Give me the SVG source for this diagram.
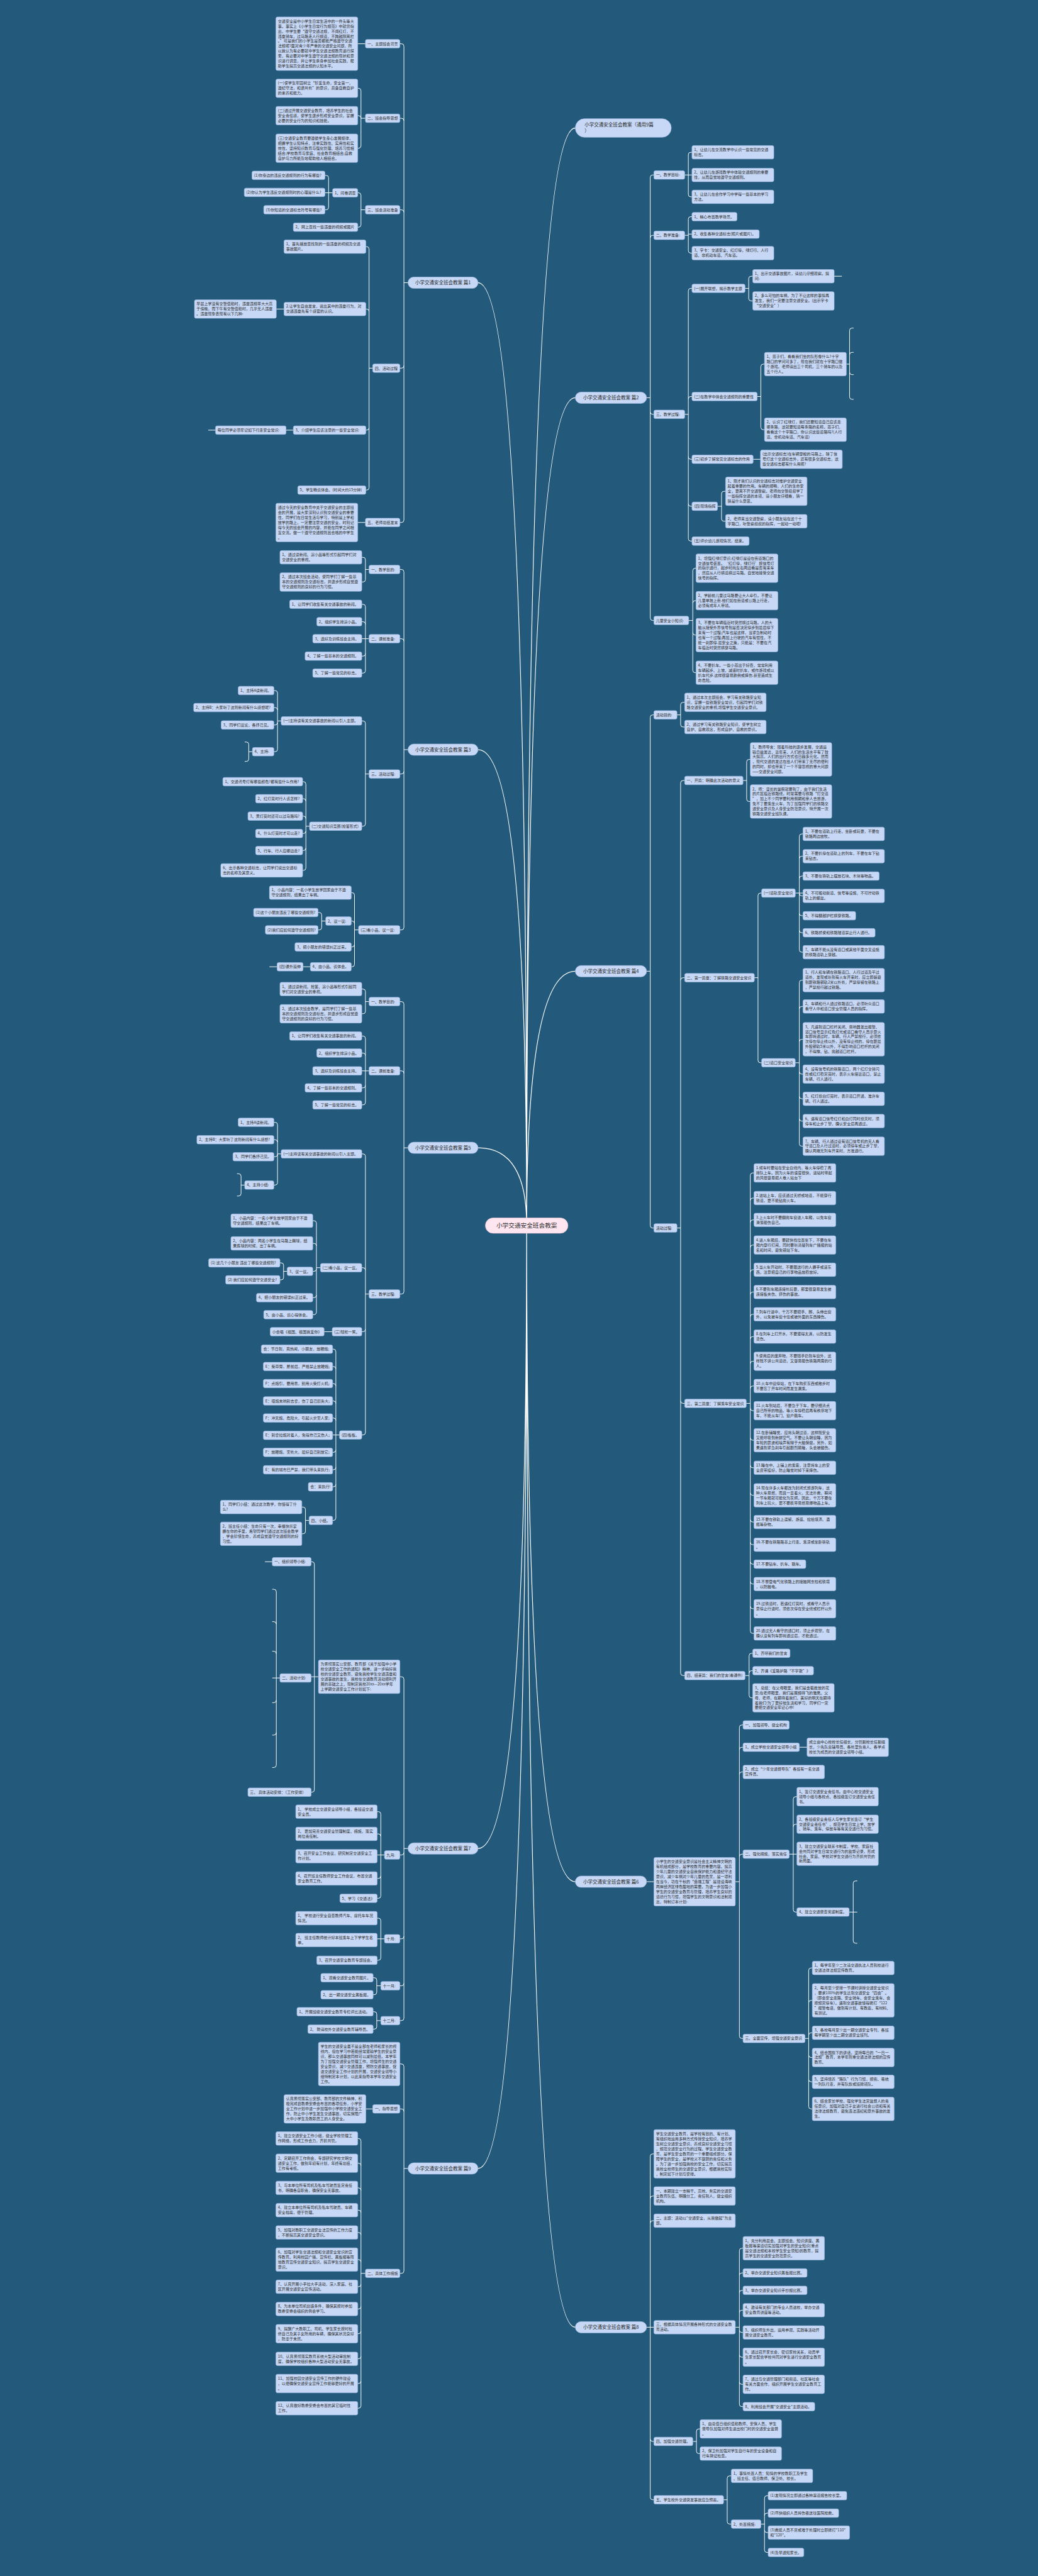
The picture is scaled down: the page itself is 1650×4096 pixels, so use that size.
<svg xmlns="http://www.w3.org/2000/svg" width="1650" height="4096" viewBox="0 0 1650 4096">
<style>
.n rect{fill:#c6d8f6;stroke:#a3bde8;stroke-width:1;rx:4px}
.n text,.m text,.c text{font-family:"Noto Sans CJK SC","Liberation Sans",sans-serif;fill:#2e2e2e}
.n text{font-size:9.4px}
.m rect{fill:#c6d8f6;stroke:#a3bde8;stroke-width:1;rx:14px}
.m text{font-size:11.7px;text-anchor:middle}
.c rect{fill:#fde6ef;stroke:#e9c4d3;stroke-width:1;rx:19px}
.c text{font-size:15px;text-anchor:middle}
#links path{fill:none;stroke:#ffffff;stroke-width:1.5}
#links path.k{stroke-width:2}
</style>
<rect width="1650" height="4096" fill="#235a7b"/>
<g transform="scale(0.644)">
<g id="links">
<path class="k" d="M1180 698Q1300 698 1300 3026M1180 1851Q1300 1851 1300 3026M1180 2834Q1300 2834 1300 3026M1180 4564Q1300 4564 1300 3026M1180 5354Q1300 5354 1300 3026M1420 316Q1300 316 1300 3026M1420 982Q1300 982 1300 3026M1420 2398Q1300 2398 1300 3026M1420 4646Q1300 4646 1300 3026M1420 5746Q1300 5746 1300 3026"/>
<path d="M1007 698H997M997 114V1284M997 114Q997 108 991 108H987M997 298Q997 292 991 292H987M997 524Q997 518 991 518H987M997 903Q997 909 991 909H987M997 1284Q997 1290 991 1290H987
M902 108H883
M902 292H891M891 224V360M891 224Q891 218 885 218H883M891 291.5Q891 285.5 885 285.5H883M891 360Q891 366 885 366H883
M902 518H891M891 482V555M891 482Q891 476 885 476H883M891 555Q891 561 885 561H883
M821 476H802M811 439V512M811 439Q811 433 805 433H802M811 512Q811 518 805 518H802
M920 909H911M911 615V1204M911 615Q911 609 905 609H903M911 769Q911 763 905 763H903M911 1056Q911 1062 905 1062H903M911 1204Q911 1210 905 1210H903
M701 763H682M724 1062H706M532 1062H514M902 1290H883"/>
<path d="M1007 1851H997M997 1412V2290M997 1412Q997 1406 991 1406H987M997 1583Q997 1577 991 1577H987M997 1905Q997 1911 991 1911H987M997 2290Q997 2296 991 2296H987
M911 1406H902M902 1382V1431M902 1382Q902 1376 896 1376H893M902 1431Q902 1437 896 1437H893
M911 1577H893M902 1498V1656M902 1498Q902 1492 896 1492H893M902 1541Q902 1535 896 1535H893M902 1614Q902 1620 896 1620H893M902 1656Q902 1662 896 1662H893
M911 1911H902M902 1786V2034M902 1786Q902 1780 896 1780H893M902 2034Q902 2040 896 2040H893
M694 1780H685M685 1711V1850M685 1711Q685 1705 679 1705H676M685 1753Q685 1747 679 1747H676M685 1784Q685 1790 679 1790H676M685 1850Q685 1856 679 1856H676
M623 1856H614M614 1838V1874M614 1838Q614 1832 608 1832H604M614 1874Q614 1880 608 1880H604
M764 2040H755M755 1936V2143M755 1936Q755 1930 749 1930H747M755 1978Q755 1972 749 1972H747M755 2021Q755 2015 749 2015H747M755 2052Q755 2058 749 2058H747M755 2094Q755 2100 749 2100H747M755 2143Q755 2149 749 2149H747
M885 2296H875M875 2210V2381M875 2210Q875 2204 869 2204H867M875 2280Q875 2274 869 2274H867M875 2332Q875 2338 869 2338H867M875 2381Q875 2387 869 2387H867
M804 2274H794M794 2259V2290M794 2259Q794 2253 788 2253H785M794 2290Q794 2296 788 2296H785
M766 2387H748M684 2387H665"/>
<path d="M1007 2834H997M997 2479V3189M997 2479Q997 2473 991 2473H987M997 2650Q997 2644 991 2644H987M997 3189Q997 3195 991 3195H987
M911 2473H902M902 2448V2497M902 2448Q902 2442 896 2442H893M902 2497Q902 2503 896 2503H893
M911 2644H893M902 2564V2722M902 2564Q902 2558 896 2558H893M902 2606Q902 2600 896 2600H893M902 2680Q902 2686 896 2686H893M902 2722Q902 2728 896 2728H893
M911 3195H902M902 2855V3537M902 2855Q902 2849 896 2849H893M902 3136Q902 3130 896 3130H893M902 3282Q902 3288 896 3288H893M902 3537Q902 3543 896 3543H893
M694 2849H685M685 2777V2920M685 2777Q685 2771 679 2771H676M685 2820Q685 2814 679 2814H676M685 2850Q685 2856 679 2856H676M685 2920Q685 2926 679 2926H676
M604 2926H595M595 2904V2947M595 2904Q595 2898 589 2898H585M595 2947Q595 2953 589 2953H585
M791 3130H781M781 3020V3240M781 3020Q781 3014 775 3014H772M781 3076Q781 3070 775 3070H772M781 3133Q781 3139 775 3139H772M781 3198Q781 3204 775 3204H772M781 3240Q781 3246 775 3246H772
M709 3139H700M700 3124V3154M700 3124Q700 3118 694 3118H691M700 3154Q700 3160 694 3160H691
M820 3288H800
M838 3543H821M829 3337V3748M829 3337Q829 3331 823 3331H821M829 3380Q829 3374 823 3374H821M829 3422Q829 3416 823 3416H821M829 3465Q829 3459 823 3459H821M829 3507Q829 3501 823 3501H821M829 3580Q829 3586 823 3586H821M829 3623Q829 3629 823 3629H821M829 3665Q829 3671 823 3671H821M829 3748Q829 3754 823 3754H821
M763 3754H754M754 3727V3781M754 3727Q754 3721 748 3721H745M754 3781Q754 3787 748 3787H745"/>
<path d="M1007 4564H997M997 4146V4983M997 4146Q997 4140 991 4140H987M997 4574Q997 4580 991 4580H987M997 4781Q997 4787 991 4787H987M997 4897Q997 4903 991 4903H987M997 4983Q997 4989 991 4989H987
M786 4140H768M776 3862V4419M776 3862Q776 3856 770 3856H768M776 4419Q776 4425 770 4425H768
M672 3856H654
M691 4143H672M682 3930V4358M682 3930Q682 3924 676 3924H672M682 4010Q682 4004 676 4004H672M682 4083Q682 4077 676 4077H672M682 4198Q682 4204 676 4204H672M682 4278Q682 4284 676 4284H672M682 4358Q682 4364 676 4364H672
M949 4580H931M940 4479V4681M940 4479Q940 4473 934 4473H931M940 4534Q940 4528 934 4528H931M940 4632Q940 4638 934 4638H931M940 4681Q940 4687 934 4687H931
M949 4787H931M940 4742V4834M940 4742Q940 4736 934 4736H931M940 4834Q940 4840 934 4840H931
M940 4903H930M930 4889V4919M930 4889Q930 4883 924 4883H921M930 4919Q930 4925 924 4925H921
M940 4989H930M930 4973V5004M930 4973Q930 4967 924 4967H921M930 5004Q930 5010 924 5010H921"/>
<path d="M1007 5354H997M997 5102V5607M997 5102Q997 5096 991 5096H987M997 5213Q997 5207 991 5207H987M997 5607Q997 5613 991 5613H987
M920 5207H903
M902 5613H891M891 5286V5940M891 5286Q891 5280 885 5280H883M891 5347Q891 5341 885 5341H883M891 5408Q891 5402 885 5402H883M891 5463Q891 5457 885 5457H883M891 5518Q891 5512 885 5512H883M891 5585Q891 5579 885 5579H883M891 5640Q891 5646 885 5646H883M891 5695Q891 5701 885 5701H883M891 5756Q891 5762 885 5762H883M891 5818Q891 5824 885 5824H883M891 5879Q891 5885 885 5885H883M891 5940Q891 5946 885 5946H883"/>
<path d="M1596 982H1605M1605 438V1526M1605 438Q1605 432 1611 432H1614M1605 587Q1605 581 1611 581H1614M1605 1017Q1605 1023 1611 1023H1614M1605 1526Q1605 1532 1611 1532H1614
M1690 432H1708M1699 382V480M1699 382Q1699 376 1705 376H1708M1699 480Q1699 486 1705 486H1708
M1690 581H1699M1699 541V619M1699 541Q1699 535 1705 535H1708M1699 578H1708M1699 619Q1699 625 1705 625H1708
M1690 1023H1699M1699 718V1330M1699 718Q1699 712 1705 712H1708M1699 985Q1699 979 1705 979H1708M1699 1128Q1699 1134 1705 1134H1708M1699 1244Q1699 1250 1705 1250H1708M1699 1330Q1699 1336 1705 1336H1708
M1839 712H1848M1848 688V737M1848 688Q1848 682 1854 682H1858M1848 737Q1848 743 1854 743H1858
M2059 682H2078
M1869 979H1878M1878 905V1055M1878 905Q1878 899 1884 899H1887M1878 1055Q1878 1061 1884 1061H1887
M2089 899H2097M2097 816V980M2097 816Q2097 810 2103 810H2107M2097 876Q2097 870 2103 870H2107M2097 919Q2097 925 2103 925H2107M2097 980Q2097 986 2103 986H2107
M1859 1134H1877
M1771 1250H1781M1781 1219V1281M1781 1219Q1781 1213 1787 1213H1791M1781 1281Q1781 1287 1787 1287H1791
M1700 1532H1710M1710 1409V1655M1710 1409Q1710 1403 1716 1403H1718M1710 1489Q1710 1483 1716 1483H1718M1710 1562Q1710 1568 1716 1568H1718M1710 1655Q1710 1661 1716 1661H1718"/>
<path d="M1596 2398H1605M1605 1771V3026M1605 1771Q1605 1765 1611 1765H1614M1605 3026Q1605 3032 1611 3032H1614
M1671 1765H1680M1680 1740V1789M1680 1740Q1680 1734 1686 1734H1690M1680 1789Q1680 1795 1686 1795H1690
M1671 3032H1680M1680 1933V4131M1680 1933Q1680 1927 1686 1927H1690M1680 2420Q1680 2414 1686 2414H1690M1680 3459Q1680 3465 1686 3465H1690M1680 4131Q1680 4137 1686 4137H1690
M1834 1927H1843M1843 1881V1973M1843 1881Q1843 1875 1849 1875H1852M1843 1973Q1843 1979 1849 1979H1852
M1862 2414H1871M1871 2211V2618M1871 2211Q1871 2205 1877 2205H1880M1871 2618Q1871 2624 1877 2624H1880
M1963 2205H1982M1973 2065V2345M1973 2065Q1973 2059 1979 2059H1982M1973 2120Q1973 2114 1979 2114H1982M1973 2169Q1973 2163 1979 2163H1982M1973 2206Q1973 2212 1979 2212H1982M1973 2255Q1973 2261 1979 2261H1982M1973 2297Q1973 2303 1979 2303H1982M1973 2345Q1973 2351 1979 2351H1982
M1963 2624H1973M1973 2426V2824M1973 2426Q1973 2420 1979 2420H1982M1973 2491Q1973 2485 1979 2485H1982M1973 2572Q1973 2566 1979 2566H1982M1973 2646Q1973 2652 1979 2652H1982M1973 2707Q1973 2713 1979 2713H1982M1973 2762Q1973 2768 1979 2768H1982M1973 2824Q1973 2830 1979 2830H1982
M1842 3465H1852M1852 2902V4027M1852 2902Q1852 2896 1858 2896H1861M1852 2964Q1852 2958 1858 2958H1861M1852 3018Q1852 3012 1858 3012H1861M1852 3080Q1852 3074 1858 3074H1861M1852 3141Q1852 3135 1858 3135H1861M1852 3196Q1852 3190 1858 3190H1861M1852 3251Q1852 3245 1858 3245H1861M1852 3306Q1852 3300 1858 3300H1861M1852 3367Q1852 3361 1858 3361H1861M1852 3428Q1852 3422 1858 3422H1861M1852 3477Q1852 3483 1858 3483H1861M1852 3550Q1852 3556 1858 3556H1861M1852 3618Q1852 3624 1858 3624H1861M1852 3686Q1852 3692 1858 3692H1861M1852 3752Q1852 3758 1858 3758H1861M1852 3808Q1852 3814 1858 3814H1861M1852 3856Q1852 3862 1858 3862H1861M1852 3905Q1852 3911 1858 3911H1861M1852 3966Q1852 3972 1858 3972H1861M1852 4027Q1852 4033 1858 4033H1861
M1839 4137H1849M1849 4088V4186M1849 4088Q1849 4082 1855 4082H1858M1849 4131Q1849 4125 1855 4125H1858M1849 4186Q1849 4192 1855 4192H1858"/>
<path d="M1596 4646H1614
M1815 4646H1825M1825 4265V5027M1825 4265Q1825 4259 1831 4259H1834M1825 4320Q1825 4314 1831 4314H1834M1825 4381Q1825 4375 1831 4375H1834M1825 4584Q1825 4578 1831 4578H1834M1825 5027Q1825 5033 1831 5033H1834
M1973 4314H1992
M1948 4578H1967M1958 4442V4715M1958 4442Q1958 4436 1964 4436H1967M1958 4510Q1958 4504 1964 4504H1967M1958 4715Q1958 4721 1964 4721H1967
M2096 4721H2116M2106 4650V4792M2106 4650Q2106 4644 2112 4644H2116M2106 4792Q2106 4798 2112 4798H2116
M1987 5033H1996M1996 4865V5201M1996 4865Q1996 4859 2002 4859H2005M1996 4945Q1996 4939 2002 4939H2005M1996 5025Q1996 5019 2002 5019H2005M1996 5074Q1996 5080 2002 5080H2005M1996 5134Q1996 5140 2002 5140H2005M1996 5201Q1996 5207 2002 5207H2005
M1596 5746H1614M1605 5324V6166M1605 5324Q1605 5318 1611 5318H1614M1605 5428Q1605 5422 1611 5422H1614M1605 5489Q1605 5483 1611 5483H1614M1605 6022Q1605 6028 1611 6028H1614M1605 6166Q1605 6172 1611 6172H1614
M1815 5746H1825M1825 5557V5936M1825 5557Q1825 5551 1831 5551H1834M1825 5618Q1825 5612 1831 5612H1834M1825 5661Q1825 5655 1831 5655H1834M1825 5710Q1825 5704 1831 5704H1834M1825 5753Q1825 5759 1831 5759H1834M1825 5814Q1825 5820 1831 5820H1834M1825 5881Q1825 5887 1831 5887H1834M1825 5936Q1825 5942 1831 5942H1834
M1710 6028H1719M1719 6003V6052M1719 6003Q1719 5997 1725 5997H1728M1719 6052Q1719 6058 1725 6058H1728
M1786 6172H1795M1795 6119V6226M1795 6119Q1795 6113 1801 6113H1805M1795 6226Q1795 6232 1801 6232H1805
M1878 6232H1887M1887 6168V6296M1887 6168Q1887 6162 1893 6162H1896M1887 6211Q1887 6205 1893 6205H1896M1887 6247Q1887 6253 1893 6253H1896M1887 6296Q1887 6302 1893 6302H1896"/>
</g>

<g id="center" class="c" transform="translate(1198,3007)"><rect width="204" height="38"/><text x="102" y="24.5">小学交通安全班会教案</text></g>
<g id="top" class="m" transform="translate(1420,293)"><rect width="237" height="46" style="rx:23px"/><text x="23" y="19" style="text-anchor:start">小学交通安全班会教案（通用9篇<tspan x="23" dy="16">）</tspan></text></g>

<!-- 篇1 -->
<g id="p1" class="m" transform="translate(1007,684)"><rect width="173" height="28"/><text x="86.5" y="18.3">小学交通安全班会教案 篇1</text></g>
<g class="n">
<g id="p1a1" transform="translate(902,97.5)"><rect width="85" height="21"/><text x="5" y="13.8">一、主题班会背景</text></g>
<g id="p1a1c" transform="translate(681,41.9)"><rect width="202" height="132.1"/><text><tspan x="5" y="13.5">交通安全是中小学生日常生活中的一件头等大</tspan><tspan x="5" dy="12.35">事。事实上《小学生日常行为规范》中就曾指</tspan><tspan x="5" dy="12.35">出，中学生要“遵守交通法规，不闯红灯，不</tspan><tspan x="5" dy="12.35">违章骑车，过马路走人行横道，不跨越隔离栏</tspan><tspan x="5" dy="12.35">。”可是我们的小学生是否都能严格遵守交通</tspan><tspan x="5" dy="12.35">法规呢?面对青少年严重的交通安全问题，所</tspan><tspan x="5" dy="12.35">以我认为有必要就中学生交通法规教育进行探</tspan><tspan x="5" dy="12.35">索，有必要对中学生遵守交通法规的现状和意</tspan><tspan x="5" dy="12.35">识进行调查，并让学生亲身参加社会实践，帮</tspan><tspan x="5" dy="12.35">助学生提高交通法规的认知水平。</tspan></text></g>
<g id="p1a2" transform="translate(902,281.5)"><rect width="85" height="21"/><text x="5" y="13.8">二、班会指导思想</text></g>
<g id="p1a2c1" transform="translate(681,195.2)"><rect width="202" height="45.65"/><text><tspan x="5" y="13.5">(一)使学生牢固树立“珍爱生命，安全第一，</tspan><tspan x="5" dy="12.35">遵纪守法，和谐共处”的意识，具备自救自护</tspan><tspan x="5" dy="12.35">的素养和能力。</tspan></text></g>
<g id="p1a2c2" transform="translate(681,262.7)"><rect width="202" height="45.65"/><text><tspan x="5" y="13.5">(二)通过开展交通安全教育，培养学生的社会</tspan><tspan x="5" dy="12.35">安全责任感，使学生逐步形成安全意识，掌握</tspan><tspan x="5" dy="12.35">必要的安全行为的知识和技能。</tspan></text></g>
<g id="p1a2c3" transform="translate(681,330.8)"><rect width="202" height="70.35"/><text><tspan x="5" y="13.5">(三)交通安全教育要遵循学生身心发展规律，</tspan><tspan x="5" dy="12.35">把握学生认知特点，注重实践性、实用性和实</tspan><tspan x="5" dy="12.35">效性。坚持知识教育与强化管理、培养习惯相</tspan><tspan x="5" dy="12.35">结合;学校教育与家庭、社会教育相结合;自救</tspan><tspan x="5" dy="12.35">自护与力所能及地帮助他人相结合。</tspan></text></g>
<g id="p1a3" transform="translate(902,507.5)"><rect width="85" height="21"/><text x="5" y="13.8">三、班会活动准备</text></g>
<g id="p1a3c1" transform="translate(821,465.5)"><rect width="62" height="21"/><text x="5" y="13.8">1、问卷调查</text></g>
<g id="p1q1" transform="translate(622,422.5)"><rect width="180" height="21"/><text x="5" y="13.8">(1)你身边的违反交通规则的行为有哪些?</text></g>
<g id="p1q2" transform="translate(603,464.5)"><rect width="199" height="21"/><text x="5" y="13.8">(2)你认为学生违反交通规则时的心理是什么?</text></g>
<g id="p1q3" transform="translate(651,507.5)"><rect width="151" height="21"/><text x="5" y="13.8">(3)你知道的交通标志符号有哪些?</text></g>
<g id="p1a3c2" transform="translate(724,550.5)"><rect width="159" height="21"/><text x="5" y="13.8">2、网上查找一些违章的视频或图片</text></g>
<g id="p1a4" transform="translate(920,898.5)"><rect width="67" height="21"/><text x="5" y="13.8">四、活动过程</text></g>
<g id="p1a4c1" transform="translate(701,592.35)"><rect width="202" height="33.3"/><text><tspan x="5" y="13.5">1、首先播放查找到的一些违章的视频及交通</tspan><tspan x="5" dy="12.35">事故图片。</tspan></text></g>
<g id="p1a4c2" transform="translate(701,746.35)"><rect width="202" height="33.3"/><text><tspan x="5" y="13.5">2.让学生自由发言，说出其中的违章行为，对</tspan><tspan x="5" dy="12.35">交通违章先有个感官的认识。</tspan></text></g>
<g id="p1a4c2a" transform="translate(480,740.2)"><rect width="202" height="45.65"/><text><tspan x="5" y="13.5">早晨上学没有交警值勤时，违章违规率大大高</tspan><tspan x="5" dy="12.35">于傍晚，而下午有交警值勤时，几乎无人违章</tspan><tspan x="5" dy="12.35">。违章现象表现有以下几种:</tspan></text></g>
<g id="p1a4c3" transform="translate(724,1051.5)"><rect width="179" height="21"/><text x="5" y="13.8">3、介绍学生应该注意的一些安全常识:</text></g>
<g id="p1a4c3a" transform="translate(532,1051.5)"><rect width="174" height="21"/><text x="5" y="13.8">每位同学必须牢记如下行走安全常识:</text></g>
<g id="p1a4c5" transform="translate(735,1199.5)"><rect width="168" height="21"/><text x="5" y="13.8">5、学生畅谈体会。(时间大约15分钟)</text></g>
<g id="p1a5" transform="translate(902,1279.5)"><rect width="85" height="21"/><text x="5" y="13.8">五、老师总结发言</text></g>
<g id="p1a5c" transform="translate(681,1242.5)"><rect width="202" height="95.05"/><text><tspan x="5" y="13.5">通过今天的安全教育中关于交通安全的主题班</tspan><tspan x="5" dy="12.35">会的开展，是大家深刻认识到交通安全的重要</tspan><tspan x="5" dy="12.35">性，同学们在日常生活与学习，特别是上学和</tspan><tspan x="5" dy="12.35">放学的路上，一定要注意交通的安全，时刻记</tspan><tspan x="5" dy="12.35">得今天的班会开展的内容，并能在同学之间相</tspan><tspan x="5" dy="12.35">互交流。做一个遵守交通规则且合格的中学生</tspan><tspan x="5" dy="12.35">。</tspan></text></g>
</g>

<!-- 篇3 -->
<g id="p3" class="m" transform="translate(1007,1837)"><rect width="173" height="28"/><text x="86.5" y="18.3">小学交通安全班会教案 篇3</text></g>
<g class="n">
<g id="p3b1" transform="translate(911,1395.5)"><rect width="76" height="21"/><text x="5" y="13.8">一、教学目的:</text></g>
<g id="p3b1a" transform="translate(691,1359.35)"><rect width="202" height="33.3"/><text><tspan x="5" y="13.5">1、通过读新闻、演小品等形式引起同学们对</tspan><tspan x="5" dy="12.35">交通安全的重视。</tspan></text></g>
<g id="p3b1b" transform="translate(691,1414.2)"><rect width="202" height="45.65"/><text><tspan x="5" y="13.5">2、通过本次班会活动，使同学们了解一些基</tspan><tspan x="5" dy="12.35">本的交通规则及交通标志，并逐步形成自觉遵</tspan><tspan x="5" dy="12.35">守交通规则的良好的行为习惯。</tspan></text></g>
<g id="p3b2" transform="translate(911,1566.5)"><rect width="76" height="21"/><text x="5" y="13.8">二、课前准备:</text></g>
<g id="p3b2a" transform="translate(715,1481.5)"><rect width="178" height="21"/><text x="5" y="13.8">1、让同学们收集有关交通事故的新闻。</text></g>
<g id="p3b2b" transform="translate(782,1524.5)"><rect width="111" height="21"/><text x="5" y="13.8">2、组织学生排演小品。</text></g>
<g id="p3b2c" transform="translate(772,1566.5)"><rect width="121" height="21"/><text x="5" y="13.8">3、选好及训练班会主持。</text></g>
<g id="p3b2d" transform="translate(753,1609.5)"><rect width="140" height="21"/><text x="5" y="13.8">4、了解一些基本的交通规则。</text></g>
<g id="p3b2e" transform="translate(772,1651.5)"><rect width="121" height="21"/><text x="5" y="13.8">5、了解一些常见的标志。</text></g>
<g id="p3b3" transform="translate(911,1900.5)"><rect width="76" height="21"/><text x="5" y="13.8">三、活动过程:</text></g>
<g id="p3b3a" transform="translate(694,1769.5)"><rect width="199" height="21"/><text x="5" y="13.8">(一)主持读有关交通事故的新闻以引入主题。</text></g>
<g id="p3b3a1" transform="translate(588,1694.5)"><rect width="88" height="21"/><text x="5" y="13.8">1、主持A读新闻。</text></g>
<g id="p3b3a2" transform="translate(478,1736.5)"><rect width="198" height="21"/><text x="5" y="13.8">2、主持B：大家听了这则新闻有什么感想呢?</text></g>
<g id="p3b3a3" transform="translate(546,1779.5)"><rect width="130" height="21"/><text x="5" y="13.8">3、同学们议论，各抒己见。</text></g>
<g id="p3b3a4" transform="translate(623,1845.5)"><rect width="53" height="21"/><text x="5" y="13.8">4、主持:</text></g>
<g id="p3b3b" transform="translate(764,2029.5)"><rect width="129" height="21"/><text x="5" y="13.8">(二)交通知识竞赛(抢答形式)</text></g>
<g id="p3b3b1" transform="translate(550,1919.5)"><rect width="197" height="21"/><text x="5" y="13.8">1、交通讯号灯有哪些颜色?都有些什么作用?</text></g>
<g id="p3b3b2" transform="translate(631,1961.5)"><rect width="116" height="21"/><text x="5" y="13.8">2、红灯亮时行人该怎样?</text></g>
<g id="p3b3b3" transform="translate(612,2004.5)"><rect width="135" height="21"/><text x="5" y="13.8">3、黄灯亮时还可以过马路吗?</text></g>
<g id="p3b3b4" transform="translate(631,2047.5)"><rect width="116" height="21"/><text x="5" y="13.8">4、什么灯亮时才可以走?</text></g>
<g id="p3b3b5" transform="translate(631,2089.5)"><rect width="116" height="21"/><text x="5" y="13.8">5、行车、行人应哪边走?</text></g>
<g id="p3b3b6" transform="translate(545,2132.35)"><rect width="202" height="33.3"/><text><tspan x="5" y="13.5">6、出示各种交通标志，让同学们说出交通标</tspan><tspan x="5" dy="12.35">志的名称及其意义。</tspan></text></g>
<g id="p3b4" transform="translate(885,2285.5)"><rect width="102" height="21"/><text x="5" y="13.8">(三)看小品，议一议:</text></g>
<g id="p3b4a" transform="translate(665,2187.35)"><rect width="202" height="33.3"/><text><tspan x="5" y="13.5">1、小品内容：一名小学生放学回家由于不遵</tspan><tspan x="5" dy="12.35">守交通规则，结果出了车祸。</tspan></text></g>
<g id="p3b4b" transform="translate(804,2263.5)"><rect width="63" height="21"/><text x="5" y="13.8">2、议一议:</text></g>
<g id="p3b4b1" transform="translate(626,2242.5)"><rect width="159" height="21"/><text x="5" y="13.8">(1)这个小朋友违反了哪些交通规则?</text></g>
<g id="p3b4b2" transform="translate(655,2285.5)"><rect width="130" height="21"/><text x="5" y="13.8">(2)我们应如何遵守交通规则?</text></g>
<g id="p3b4c" transform="translate(728,2327.5)"><rect width="139" height="21"/><text x="5" y="13.8">3、把小朋友的错误纠正过来。</text></g>
<g id="p3b4d" transform="translate(766,2376.5)"><rect width="101" height="21"/><text x="5" y="13.8">4、由小品、谈体会。</text></g>
<g id="p3b4d1" transform="translate(684,2376.5)"><rect width="64" height="21"/><text x="5" y="13.8">(四)课外延伸</text></g>
</g>

<!-- 篇5 -->
<g id="p5" class="m" transform="translate(1007,2820)"><rect width="173" height="28"/><text x="86.5" y="18.3">小学交通安全班会教案 篇5</text></g>
<g class="n">
<g id="p5c1" transform="translate(911,2462.5)"><rect width="76" height="21"/><text x="5" y="13.8">一、教学目的:</text></g>
<g id="p5c1a" transform="translate(691,2425.35)"><rect width="202" height="33.3"/><text><tspan x="5" y="13.5">1、通过读新闻、抢答、演小品等形式引起同</tspan><tspan x="5" dy="12.35">学们对交通安全的重视。</tspan></text></g>
<g id="p5c1b" transform="translate(691,2480.2)"><rect width="202" height="45.65"/><text><tspan x="5" y="13.5">2、通过本次班会教学，是同学们了解一些基</tspan><tspan x="5" dy="12.35">本的交通规则及交通标志，并逐步形成自觉遵</tspan><tspan x="5" dy="12.35">守交通规则的良好的行为习惯。</tspan></text></g>
<g id="p5c2" transform="translate(911,2633.5)"><rect width="76" height="21"/><text x="5" y="13.8">二、课前准备:</text></g>
<g id="p5c2a" transform="translate(715,2547.5)"><rect width="178" height="21"/><text x="5" y="13.8">1、让同学们收集有关交通事故的新闻。</text></g>
<g id="p5c2b" transform="translate(782,2589.5)"><rect width="111" height="21"/><text x="5" y="13.8">2、组织学生排演小品。</text></g>
<g id="p5c2c" transform="translate(772,2633.5)"><rect width="121" height="21"/><text x="5" y="13.8">3、选好及训练班会主持。</text></g>
<g id="p5c2d" transform="translate(753,2675.5)"><rect width="140" height="21"/><text x="5" y="13.8">4、了解一些基本的交通规则。</text></g>
<g id="p5c2e" transform="translate(772,2717.5)"><rect width="121" height="21"/><text x="5" y="13.8">5、了解一些常见的标志。</text></g>
<g id="p5c3" transform="translate(911,3184.5)"><rect width="76" height="21"/><text x="5" y="13.8">三、教学过程:</text></g>
<g id="p5c3a" transform="translate(694,2838.5)"><rect width="199" height="21"/><text x="5" y="13.8">(一)主持读有关交通事故的新闻以引入主题。</text></g>
<g id="p5c3a1" transform="translate(588,2760.5)"><rect width="88" height="21"/><text x="5" y="13.8">1、主持A读新闻。</text></g>
<g id="p5c3a2" transform="translate(486,2803.5)"><rect width="190" height="21"/><text x="5" y="13.8">2、主持B：大家听了这则新闻有什么感想?</text></g>
<g id="p5c3a3" transform="translate(575,2845.5)"><rect width="101" height="21"/><text x="5" y="13.8">3、同学们各抒己见。</text></g>
<g id="p5c3a4" transform="translate(604,2915.5)"><rect width="72" height="21"/><text x="5" y="13.8">4、主持小结:</text></g>
<g id="p5c3b" transform="translate(791,3119.5)"><rect width="102" height="21"/><text x="5" y="13.8">(二)看小品，议一议。</text></g>
<g id="p5c3b1" transform="translate(570,2997.35)"><rect width="202" height="33.3"/><text><tspan x="5" y="13.5">1、小品内容：一名小学生放学回家由于不遵</tspan><tspan x="5" dy="12.35">守交通规则，结果出了车祸。</tspan></text></g>
<g id="p5c3b2" transform="translate(570,3053.35)"><rect width="202" height="33.3"/><text><tspan x="5" y="13.5">2、小品内容：两名小学生在马路上踢球，结</tspan><tspan x="5" dy="12.35">果拣球的时候，出了车祸。</tspan></text></g>
<g id="p5c3b3" transform="translate(709,3128.5)"><rect width="63" height="21"/><text x="5" y="13.8">3、议一议。</text></g>
<g id="p5c3b3a" transform="translate(515,3107.5)"><rect width="176" height="21"/><text x="5" y="13.8">(1) 这几个小朋友 违反了哪些交通规则?</text></g>
<g id="p5c3b3b" transform="translate(557,3149.5)"><rect width="134" height="21"/><text x="5" y="13.8">(2) 我们应如何遵守交通安全?</text></g>
<g id="p5c3b4" transform="translate(633,3193.5)"><rect width="139" height="21"/><text x="5" y="13.8">4、把小朋友的错误纠正过来。</text></g>
<g id="p5c3b5" transform="translate(651,3235.5)"><rect width="121" height="21"/><text x="5" y="13.8">5、由小品、谈心得体会。</text></g>
<g id="p5c3c" transform="translate(820,3277.5)"><rect width="73" height="21"/><text x="5" y="13.8">(三)轻松一笑。</text></g>
<g id="p5c3c1" transform="translate(667,3277.5)"><rect width="133" height="21"/><text x="5" y="13.8">小合唱《祖国、祖国我爱你》</text></g>
<g id="p5c3d" transform="translate(838,3532.5)"><rect width="55" height="21"/><text x="5" y="13.8">(四)板板。</text></g>
<g id="p5d1" transform="translate(645,3320.5)"><rect width="176" height="21"/><text x="5" y="13.8">合：节日到，真热闹，小朋友，放鞭炮;</text></g>
<g id="p5d2" transform="translate(650,3363.5)"><rect width="171" height="21"/><text x="5" y="13.8">E：柴草旁，屋前后，严格禁止放鞭炮;</text></g>
<g id="p5d3" transform="translate(650,3405.5)"><rect width="171" height="21"/><text x="5" y="13.8">F：点炮引，要用香，别用火柴打火机;</text></g>
<g id="p5d4" transform="translate(650,3448.5)"><rect width="171" height="21"/><text x="5" y="13.8">E：哑炮未响别去拿，伤了自己损失大;</text></g>
<g id="p5d5" transform="translate(650,3490.5)"><rect width="171" height="21"/><text x="5" y="13.8">F：冲天炮，危险大，引起火灾害人家;</text></g>
<g id="p5d6" transform="translate(650,3533.5)"><rect width="171" height="21"/><text x="5" y="13.8">E：别拿拉炮对着人，免得炸己又伤人;</text></g>
<g id="p5d7" transform="translate(650,3575.5)"><rect width="171" height="21"/><text x="5" y="13.8">F：放鞭炮，害处大，最好自己别放它;</text></g>
<g id="p5d8" transform="translate(650,3618.5)"><rect width="171" height="21"/><text x="5" y="13.8">E：有的城市已严禁，我们带头来执行;</text></g>
<g id="p5d9" transform="translate(761,3660.5)"><rect width="60" height="21"/><text x="5" y="13.8">合：来执行!</text></g>
<g id="p5d10" transform="translate(763,3743.5)"><rect width="58" height="21"/><text x="5" y="13.8">四、小结。</text></g>
<g id="p5d10a" transform="translate(544,3704.35)"><rect width="201" height="33.3"/><text><tspan x="5" y="13.5">1、同学们小结：通过这次教学，你懂得了什</tspan><tspan x="5" dy="12.35">么?</tspan></text></g>
<g id="p5d10b" transform="translate(544,3758)"><rect width="201" height="58"/><text><tspan x="5" y="13.5">2、班主任小结：生命只有一次，幸福快乐掌</tspan><tspan x="5" dy="12.35">握在你的手里，希望同学们通过这次班会教学</tspan><tspan x="5" dy="12.35">，学会珍惜生命，养成自觉遵守交通规则的好</tspan><tspan x="5" dy="12.35">习惯。</tspan></text></g>
</g>

<!-- 篇7 -->
<g id="p7" class="m" transform="translate(1007,4550)"><rect width="173" height="28"/><text x="86.5" y="18.3">小学交通安全班会教案 篇7</text></g>
<g class="n">
<g id="p7e0" transform="translate(786,4098.65)"><rect width="201" height="82.7"/><text><tspan x="5" y="13.5">为贯彻落实公安部、教育部《关于加强中小学</tspan><tspan x="5" dy="12.35">校交通安全工作的通知》精神，进一步搞好我</tspan><tspan x="5" dy="12.35">校的交通安全教育，避免我校学生交通违章和</tspan><tspan x="5" dy="12.35">交通事故的发生，我校在交通教育活动顺利开</tspan><tspan x="5" dy="12.35">展的基础之上，现制定我校20xx—20xx学年</tspan><tspan x="5" dy="12.35">上学期交通安全工作计划如下:</tspan></text></g>
<g id="p7e1" transform="translate(672,3845.5)"><rect width="96" height="21"/><text x="5" y="13.8">一、组织领导小组:</text></g>
<g id="p7e2" transform="translate(691,4132.5)"><rect width="77" height="21"/><text x="5" y="13.8">二、活动计划:</text></g>
<g id="p7e3" transform="translate(612,4414.5)"><rect width="156" height="21"/><text x="5" y="13.8">三、 具体活动安排：（工作安排）</text></g>
<g id="p7f1" transform="translate(949,4569.5)"><rect width="38" height="21"/><text x="5" y="13.8">九月:</text></g>
<g id="p7f1a" transform="translate(730,4456.35)"><rect width="201" height="33.3"/><text><tspan x="5" y="13.5">1、 学校成立交通安全领导小组，各班设交通</tspan><tspan x="5" dy="12.35">安全员。</tspan></text></g>
<g id="p7f1b" transform="translate(730,4511.35)"><rect width="201" height="33.3"/><text><tspan x="5" y="13.5">2、 更加完善交通安全管理制度、措施，落实</tspan><tspan x="5" dy="12.35">岗位责任制。</tspan></text></g>
<g id="p7f1c" transform="translate(730,4566.35)"><rect width="201" height="33.3"/><text><tspan x="5" y="13.5">3、召开安全工作会议，研究制定交通安全工</tspan><tspan x="5" dy="12.35">作计划。</tspan></text></g>
<g id="p7f1d" transform="translate(730,4621.35)"><rect width="201" height="33.3"/><text><tspan x="5" y="13.5">4、召开班主任教师安全工作会议，布置交通</tspan><tspan x="5" dy="12.35">安全教育工作。</tspan></text></g>
<g id="p7f1e" transform="translate(839,4676.5)"><rect width="92" height="21"/><text x="5" y="13.8">5、学习《交通法》</text></g>
<g id="p7f2" transform="translate(949,4776.5)"><rect width="38" height="21"/><text x="5" y="13.8">十月:</text></g>
<g id="p7f2a" transform="translate(730,4719.35)"><rect width="201" height="33.3"/><text><tspan x="5" y="13.5">1、 学校进行安全自查教师汽车、摩托车车况</tspan><tspan x="5" dy="12.35">情况。</tspan></text></g>
<g id="p7f2b" transform="translate(730,4773.35)"><rect width="201" height="33.3"/><text><tspan x="5" y="13.5">2、 班主任教师统计好本班乘车上下学学生名</tspan><tspan x="5" dy="12.35">单。</tspan></text></g>
<g id="p7f2c" transform="translate(782,4829.5)"><rect width="149" height="21"/><text x="5" y="13.8">3、召开交通安全教育专题班会。</text></g>
<g id="p7f3" transform="translate(940,4892.5)"><rect width="47" height="21"/><text x="5" y="13.8">十一月:</text></g>
<g id="p7f3a" transform="translate(792,4872.5)"><rect width="129" height="21"/><text x="5" y="13.8">1、观看交通安全教育图片。</text></g>
<g id="p7f3b" transform="translate(792,4914.5)"><rect width="129" height="21"/><text x="5" y="13.8">2、出一期交通安全黑板报。</text></g>
<g id="p7f4" transform="translate(940,4978.5)"><rect width="47" height="21"/><text x="5" y="13.8">十二月:</text></g>
<g id="p7f4a" transform="translate(733,4956.5)"><rect width="188" height="21"/><text x="5" y="13.8">1、开展班级交通安全教育专栏评比活动。</text></g>
<g id="p7f4b" transform="translate(760,4999.5)"><rect width="161" height="21"/><text x="5" y="13.8">2、 聘请校外交通安全教育辅导员。</text></g>
</g>

<!-- 篇9 -->
<g id="p9" class="m" transform="translate(1007,5340)"><rect width="173" height="28"/><text x="86.5" y="18.3">小学交通安全班会教案 篇9</text></g>
<g class="n">
<g id="p9g0" transform="translate(786,5042.3)"><rect width="201" height="107.4"/><text><tspan x="5" y="13.5">学生的交通安全虽不是全部在老师和家长的视</tspan><tspan x="5" dy="12.35">线内，但在学习中若能经常灌输学生的安全意</tspan><tspan x="5" dy="12.35">识，那么交通事故同样可以减到最低。本学年</tspan><tspan x="5" dy="12.35">为了加强交通安全管理工作，增强师生的交通</tspan><tspan x="5" dy="12.35">安全意识，减少交通违章，预防交通事故，促</tspan><tspan x="5" dy="12.35">进交通安全工作计划的开展，交通安全领导小</tspan><tspan x="5" dy="12.35">组特制定本计划，以此来指导本学年交通安全</tspan><tspan x="5" dy="12.35">工作。</tspan></text></g>
<g id="p9g1" transform="translate(920,5196.5)"><rect width="67" height="21"/><text x="5" y="13.8">一、指导思想</text></g>
<g id="p9g1a" transform="translate(701,5171.8)"><rect width="202" height="70.35"/><text><tspan x="5" y="13.5">认真贯彻落实公安部、教育部的文件精神，积</tspan><tspan x="5" dy="12.35">极完成县教委安委会布置的各项任务，小学安</tspan><tspan x="5" dy="12.35">全工作计划中进一步加强中小学校交通安全工</tspan><tspan x="5" dy="12.35">作，防止中小学生发生交通事故，切实保障广</tspan><tspan x="5" dy="12.35">大中小学生及教职员工的人身安全。</tspan></text></g>
<g id="p9g2" transform="translate(902,5602.5)"><rect width="85" height="21"/><text x="5" y="13.8">二、具体工作措施</text></g>
<g id="p9g2a" transform="translate(681,5263.35)"><rect width="202" height="33.3"/><text><tspan x="5" y="13.5">1、建立交通安全工作小组，健全学校管理工</tspan><tspan x="5" dy="12.35">作网络，形成工作合力，齐抓共管。</tspan></text></g>
<g id="p9g2b" transform="translate(681,5318.2)"><rect width="202" height="45.65"/><text><tspan x="5" y="13.5">2、定期召开工作例会，专题研究学校文明交</tspan><tspan x="5" dy="12.35">通安全工作，做到年初有计划，年终有总结，</tspan><tspan x="5" dy="12.35">工作有考核。</tspan></text></g>
<g id="p9g2c" transform="translate(681,5385.35)"><rect width="202" height="33.3"/><text><tspan x="5" y="13.5">3、与本单位所有司机及私车驾驶员签定责任</tspan><tspan x="5" dy="12.35">书，明确各自职责，确保安全无事故。</tspan></text></g>
<g id="p9g2d" transform="translate(681,5440.35)"><rect width="202" height="33.3"/><text><tspan x="5" y="13.5">4、建立本单位所有司机及私车驾驶员、车辆</tspan><tspan x="5" dy="12.35">安全档案，便于管理。</tspan></text></g>
<g id="p9g2e" transform="translate(681,5495.35)"><rect width="202" height="33.3"/><text><tspan x="5" y="13.5">5、加强对教职工交通安全法宣传的工作力度</tspan><tspan x="5" dy="12.35">，不断提高其交通安全意识。</tspan></text></g>
<g id="p9g2f" transform="translate(681,5550)"><rect width="202" height="58"/><text><tspan x="5" y="13.5">6、加强对学生交通法规和交通安全常识的宣</tspan><tspan x="5" dy="12.35">传教育。利用校园广播、宣传栏、黑板报等阵</tspan><tspan x="5" dy="12.35">地教育宣传交通安全知识，提高学生交通安全</tspan><tspan x="5" dy="12.35">意识。</tspan></text></g>
<g id="p9g2g" transform="translate(681,5629.35)"><rect width="202" height="33.3"/><text><tspan x="5" y="13.5">7、认真开展小手拉大手活动，深入家庭、社</tspan><tspan x="5" dy="12.35">区开展交通安全宣传活动。</tspan></text></g>
<g id="p9g2h" transform="translate(681,5684.35)"><rect width="202" height="33.3"/><text><tspan x="5" y="13.5">8、为本单位司机创造条件，确保其按时参加</tspan><tspan x="5" dy="12.35">教委安委会组织的例会学习。</tspan></text></g>
<g id="p9g2i" transform="translate(681,5739.2)"><rect width="202" height="45.65"/><text><tspan x="5" y="13.5">9、提醒广大教职工、司机、学生家长按时检</tspan><tspan x="5" dy="12.35">修自己及其子女所用的车辆，确保其状况良好</tspan><tspan x="5" dy="12.35">，防患于未然。</tspan></text></g>
<g id="p9g2j" transform="translate(681,5807.35)"><rect width="202" height="33.3"/><text><tspan x="5" y="13.5">10、认真贯彻落实教育系统大型活动审批制</tspan><tspan x="5" dy="12.35">度，确保学校组织各种大型活动安全无事故。</tspan></text></g>
<g id="p9g2k" transform="translate(681,5862.2)"><rect width="202" height="45.65"/><text><tspan x="5" y="13.5">11、加强校园交通安全宣传工作的硬件建设</tspan><tspan x="5" dy="12.35">，以便确保交通安全宣传工作能够更好的开展</tspan><tspan x="5" dy="12.35">。</tspan></text></g>
<g id="p9g2l" transform="translate(681,5929.35)"><rect width="202" height="33.3"/><text><tspan x="5" y="13.5">12、认真做好教委安委会布置的其它临时性</tspan><tspan x="5" dy="12.35">工作。</tspan></text></g>
</g>

<!-- 篇2 -->
<g id="p2" class="m" transform="translate(1420,968)"><rect width="176" height="28"/><text x="88" y="18.3">小学交通安全班会教案 篇2</text></g>
<g class="n">
<g id="p2h1" transform="translate(1614,421.5)"><rect width="76" height="21"/><text x="5" y="13.8">一、教学目标:</text></g>
<g id="p2h1a" transform="translate(1708,359.35)"><rect width="202" height="33.3"/><text><tspan x="5" y="13.5">1、让幼儿在交流教学中认识一些常见的交通</tspan><tspan x="5" dy="12.35">标志。</tspan></text></g>
<g id="p2h1b" transform="translate(1708,415.35)"><rect width="202" height="33.3"/><text><tspan x="5" y="13.5">2、让幼儿在游戏教学中体验交通规则的重要</tspan><tspan x="5" dy="12.35">性，从而自觉地遵守交通规则。</tspan></text></g>
<g id="p2h1c" transform="translate(1708,469.35)"><rect width="202" height="33.3"/><text><tspan x="5" y="13.5">3、让幼儿在合作学习中学得一些基本的学习</tspan><tspan x="5" dy="12.35">方法。</tspan></text></g>
<g id="p2h2" transform="translate(1614,570.5)"><rect width="76" height="21"/><text x="5" y="13.8">二、教学准备:</text></g>
<g id="p2h2a" transform="translate(1708,524.5)"><rect width="111" height="21"/><text x="5" y="13.8">1、精心布置教学场景。</text></g>
<g id="p2h2b" transform="translate(1708,567.5)"><rect width="166" height="21"/><text x="5" y="13.8">2、收集各种交通标志(照片或图片)。</text></g>
<g id="p2h2c" transform="translate(1708,608.35)"><rect width="202" height="33.3"/><text><tspan x="5" y="13.5">3、字卡：交通安全、红灯停，绿灯行、人行</tspan><tspan x="5" dy="12.35">道、非机动车道、汽车道。</tspan></text></g>
<g id="p2h3" transform="translate(1614,1012.5)"><rect width="76" height="21"/><text x="5" y="13.8">三、教学过程:</text></g>
<g id="p2h3a" transform="translate(1708,701.5)"><rect width="131" height="21"/><text x="5" y="13.8">(一)展开联想，揭示教学主题</text></g>
<g id="p2h3a1" transform="translate(1858,665.35)"><rect width="201" height="33.3"/><text><tspan x="5" y="13.5">1、出示交通事故图片，请幼儿仔细观察。提</tspan><tspan x="5" dy="12.35">问:</tspan></text></g>
<g id="p2h3a2" transform="translate(1858,720.2)"><rect width="201" height="45.65"/><text><tspan x="5" y="13.5">2、多么可怕的车祸，为了不让这样的事情再</tspan><tspan x="5" dy="12.35">发生，我们一定要注意交通安全。(出示字卡</tspan><tspan x="5" dy="12.35">“交通安全”）</tspan></text></g>
<g id="p2h3b" transform="translate(1708,968.5)"><rect width="161" height="21"/><text x="5" y="13.8">(二)在教学中体会交通规则的重要性</text></g>
<g id="p2h3b1" transform="translate(1887,870)"><rect width="202" height="58"/><text><tspan x="5" y="13.5">1、孩子们，看看我们坐的队形像什么?十字</tspan><tspan x="5" dy="12.35">路口的学问可多了，现在我们就在十字路口做</tspan><tspan x="5" dy="12.35">个游戏。老师请出三个司机，三个骑车的以及</tspan><tspan x="5" dy="12.35">五个行人。</tspan></text></g>
<g id="p2h3b2" transform="translate(1887,1032)"><rect width="202" height="58"/><text><tspan x="5" y="13.5">2、认识了红绿灯，我们还要知道自己应该走</tspan><tspan x="5" dy="12.35">哪条路，这就要知道每条路的名称。孩子们，</tspan><tspan x="5" dy="12.35">看看这个十字路口，你认识这些道路吗?(人行</tspan><tspan x="5" dy="12.35">道、非机动车道、汽车道)</tspan></text></g>
<g id="p2h3c" transform="translate(1708,1123.5)"><rect width="151" height="21"/><text x="5" y="13.8">(三)初步了解常见交通标志的作用</text></g>
<g id="p2h3c1" transform="translate(1877,1111.2)"><rect width="202" height="45.65"/><text><tspan x="5" y="13.5">(出示交通标志)在车辆穿梭的马路上，除了信</tspan><tspan x="5" dy="12.35">号灯这个交通标志外，还有很多交通标志，这</tspan><tspan x="5" dy="12.35">些交通标志都有什么用呢?</tspan></text></g>
<g id="p2h3d" transform="translate(1708,1239.5)"><rect width="63" height="21"/><text x="5" y="13.8">(四)现场指挥</text></g>
<g id="p2h3d1" transform="translate(1791,1177.8)"><rect width="201" height="70.35"/><text><tspan x="5" y="13.5">1、刚才我们认识的交通标志对维护交通安全</tspan><tspan x="5" dy="12.35">起着重要的作用。车辆的顺畅，人们的生命安</tspan><tspan x="5" dy="12.35">全，更离不开交通警察。老师向交警叔叔学了</tspan><tspan x="5" dy="12.35">一些指挥交通的本领，请小朋友仔细看，猜一</tspan><tspan x="5" dy="12.35">猜是什么意思。</tspan></text></g>
<g id="p2h3d2" transform="translate(1791,1270.35)"><rect width="201" height="33.3"/><text><tspan x="5" y="13.5">2、老师来当交通警察，请小朋友站在这个十</tspan><tspan x="5" dy="12.35">字路口，听警察叔叔的指挥，一起动一动吧!</tspan></text></g>
<g id="p2h3e" transform="translate(1708,1325.5)"><rect width="141" height="21"/><text x="5" y="13.8">(五)评价幼儿游戏情况，结束。</text></g>
<g id="p2h4" transform="translate(1614,1521.5)"><rect width="86" height="21"/><text x="5" y="13.8">儿童安全小知识:</text></g>
<g id="p2h4a" transform="translate(1718,1367.8)"><rect width="202" height="70.35"/><text><tspan x="5" y="13.5">1、增强红绿灯意识.红绿灯是设在街道路口的</tspan><tspan x="5" dy="12.35">交通信号装置。‘红灯停，绿灯行’按信号灯</tspan><tspan x="5" dy="12.35">的指示通行，起步时向左右两边看是否有来车</tspan><tspan x="5" dy="12.35">，然后从人行横道横过马路。自觉地接受交通</tspan><tspan x="5" dy="12.35">信号的指挥。</tspan></text></g>
<g id="p2h4b" transform="translate(1718,1460.2)"><rect width="202" height="45.65"/><text><tspan x="5" y="13.5">2、学龄前儿童过马路要让大人牵引。不要让</tspan><tspan x="5" dy="12.35">儿童单独上街.他们如在街道或公路上行走，</tspan><tspan x="5" dy="12.35">必须有成年人带领。</tspan></text></g>
<g id="p2h4c" transform="translate(1718,1526.65)"><rect width="202" height="82.7"/><text><tspan x="5" y="13.5">3、不要在车辆临近时突然横过马路。人的大</tspan><tspan x="5" dy="12.35">脑从接受外界信号到是否决定停步到最后停下</tspan><tspan x="5" dy="12.35">来有一个过程;汽车也是这样，当紧急制动时</tspan><tspan x="5" dy="12.35">也有一个过程;再加上行驶的汽车有惯性，不</tspan><tspan x="5" dy="12.35">能一刹即停.最安全之策，只能是：不要在汽</tspan><tspan x="5" dy="12.35">车临近时突然横穿马路。</tspan></text></g>
<g id="p2h4d" transform="translate(1718,1632)"><rect width="202" height="58"/><text><tspan x="5" y="13.5">4、不要扒车。一些小孩出于好奇，常常利用</tspan><tspan x="5" dy="12.35">车辆起步、上坡、减速时扒车，或作游戏或以</tspan><tspan x="5" dy="12.35">扒车代步.这样很容易跌倒或摔伤.甚至造成生</tspan><tspan x="5" dy="12.35">命危险。</tspan></text></g>
</g>

<!-- 篇4 -->
<g id="p4" class="m" transform="translate(1420,2384)"><rect width="176" height="28"/><text x="88" y="18.3">小学交通安全班会教案 篇4</text></g>
<g class="n">
<g id="p4i1" transform="translate(1614,1754.5)"><rect width="57" height="21"/><text x="5" y="13.8">活动目的:</text></g>
<g id="p4i1a" transform="translate(1690,1711.2)"><rect width="201" height="45.65"/><text><tspan x="5" y="13.5">1、通过本次主题班会，学习有关铁路安全知</tspan><tspan x="5" dy="12.35">识，掌握一些铁路安全常识，引起同学们对铁</tspan><tspan x="5" dy="12.35">路交通安全的重视,增强学生交通安全意识。</tspan></text></g>
<g id="p4i1b" transform="translate(1690,1778.35)"><rect width="201" height="33.3"/><text><tspan x="5" y="13.5">2、通过学习有关铁路安全知识，使学生树立</tspan><tspan x="5" dy="12.35">自护、自救观念，形成自护、自救的意识。</tspan></text></g>
<g id="p4i2" transform="translate(1614,3021.5)"><rect width="57" height="21"/><text x="5" y="13.8">活动过程:</text></g>
<g id="p4j1" transform="translate(1690,1916.5)"><rect width="144" height="21"/><text x="5" y="13.8">一、开篇：明确此次活动的意义</text></g>
<g id="p4j1a" transform="translate(1852,1833.65)"><rect width="201" height="82.7"/><text><tspan x="5" y="13.5">1、教师导言：随着科技的逐步发展，交通运</tspan><tspan x="5" dy="12.35">输日益发达，近年来，人们的生活水平有了较</tspan><tspan x="5" dy="12.35">大提高，人们的出行方式也日趋多元化。然而</tspan><tspan x="5" dy="12.35">，现代交通的发达在给人们带来了无尽的便利</tspan><tspan x="5" dy="12.35">的同时，却也带来了一个不容忽视的重大问题</tspan><tspan x="5" dy="12.35">——交通安全问题。</tspan></text></g>
<g id="p4j1b" transform="translate(1852,1937.65)"><rect width="201" height="82.7"/><text><tspan x="5" y="13.5">2、师：漫长的暑假就要到了，由于我们生活</tspan><tspan x="5" dy="12.35">的片区临近铁路线，时常需要与铁路“打交道</tspan><tspan x="5" dy="12.35">”，加上不少同学要利用假期和亲人去旅游，</tspan><tspan x="5" dy="12.35">免不了要乘坐火车，为了加强同学们的铁路交</tspan><tspan x="5" dy="12.35">通安全意识及人身安全防范意识，特开展一次</tspan><tspan x="5" dy="12.35">铁路交通安全班队课。</tspan></text></g>
<g id="p4j2" transform="translate(1690,2403.5)"><rect width="172" height="21"/><text x="5" y="13.8">二、第一篇章：了解铁路交通安全常识</text></g>
<g id="p4k1" transform="translate(1880,2194.5)"><rect width="83" height="21"/><text x="5" y="13.8">(一)道轨安全常识</text></g>
<g id="p4k1a" transform="translate(1982,2042.35)"><rect width="201" height="33.3"/><text><tspan x="5" y="13.5">1、不要在道轨上行走、坐卧或玩耍，不要在</tspan><tspan x="5" dy="12.35">铁路两边放牧。</tspan></text></g>
<g id="p4k1b" transform="translate(1982,2097.35)"><rect width="201" height="33.3"/><text><tspan x="5" y="13.5">2、不要扒停在道轨上的列车，不要在车下钻</tspan><tspan x="5" dy="12.35">来钻去。</tspan></text></g>
<g id="p4k1c" transform="translate(1982,2152.5)"><rect width="188" height="21"/><text x="5" y="13.8">3、不要在铁轨上摆放石块、木块等物品。</text></g>
<g id="p4k1d" transform="translate(1982,2195.35)"><rect width="201" height="33.3"/><text><tspan x="5" y="13.5">4、不可搬动扳道、信号等设施，不可拧动铁</tspan><tspan x="5" dy="12.35">轨上的螺丝。</tspan></text></g>
<g id="p4k1e" transform="translate(1982,2250.5)"><rect width="130" height="21"/><text x="5" y="13.8">5、不得翻越护栏横穿铁路。</text></g>
<g id="p4k1f" transform="translate(1982,2292.5)"><rect width="178" height="21"/><text x="5" y="13.8">6、铁路桥梁和铁路隧道禁止行人通行。</text></g>
<g id="p4k1g" transform="translate(1982,2334.35)"><rect width="201" height="33.3"/><text><tspan x="5" y="13.5">7、车辆不能从没有道口或其他平面交叉设施</tspan><tspan x="5" dy="12.35">的铁路道轨上穿越。</tspan></text></g>
<g id="p4k2" transform="translate(1880,2613.5)"><rect width="83" height="21"/><text x="5" y="13.8">(二)道口安全常识</text></g>
<g id="p4k2a" transform="translate(1982,2391)"><rect width="201" height="58"/><text><tspan x="5" y="13.5">1、行人和车辆在铁路道口、人行过道及平过</tspan><tspan x="5" dy="12.35">道处，发现或听到有火车开来时，应立即躲避</tspan><tspan x="5" dy="12.35">到距铁路钢轨2米以外处，严禁停留在铁路上</tspan><tspan x="5" dy="12.35">，严禁抢行越过铁路。</tspan></text></g>
<g id="p4k2b" transform="translate(1982,2468.35)"><rect width="201" height="33.3"/><text><tspan x="5" y="13.5">2、车辆和行人通过铁路道口，必须听众道口</tspan><tspan x="5" dy="12.35">看守人中和道口安全管理人员的指挥。</tspan></text></g>
<g id="p4k2c" transform="translate(1982,2524.65)"><rect width="201" height="82.7"/><text><tspan x="5" y="13.5">3、凡遇到道口栏杆关闭、音响器发出报警、</tspan><tspan x="5" dy="12.35">道口信号显示红色灯光或道口看守人员示意火</tspan><tspan x="5" dy="12.35">车即将通过时，车辆、行人严禁抢行，必须依</tspan><tspan x="5" dy="12.35">次停在停止线以外，没有停止线的，停在距最</tspan><tspan x="5" dy="12.35">外股钢轨5米以外，不得影响道口栏杆的关闭</tspan><tspan x="5" dy="12.35">，不得撞、钻、爬越道口栏杆。</tspan></text></g>
<g id="p4k2d" transform="translate(1982,2629.2)"><rect width="201" height="45.65"/><text><tspan x="5" y="13.5">4、设有信号机的铁路道口，两个红灯交替闪</tspan><tspan x="5" dy="12.35">烁或红灯稳定亮时，表示火车接近道口，禁止</tspan><tspan x="5" dy="12.35">车辆、行人通行。</tspan></text></g>
<g id="p4k2e" transform="translate(1982,2696.35)"><rect width="201" height="33.3"/><text><tspan x="5" y="13.5">5、红灯熄白灯亮时，表示道口开通，准许车</tspan><tspan x="5" dy="12.35">辆、行人通过。</tspan></text></g>
<g id="p4k2f" transform="translate(1982,2751.35)"><rect width="201" height="33.3"/><text><tspan x="5" y="13.5">6、遇有道口信号红灯和白灯同时熄灭时，须</tspan><tspan x="5" dy="12.35">停车和止步了望，确认安全后再通过。</tspan></text></g>
<g id="p4k2g" transform="translate(1982,2807.2)"><rect width="201" height="45.65"/><text><tspan x="5" y="13.5">7、车辆、行人通过设有道口信号机的无人看</tspan><tspan x="5" dy="12.35">守道口及人行过道时，必须停车或止步了望，</tspan><tspan x="5" dy="12.35">确认两端无列车开来时，方准通行。</tspan></text></g>
<g id="p4j3" transform="translate(1690,3454.5)"><rect width="152" height="21"/><text x="5" y="13.8">三、第二篇章：了解乘车安全常识</text></g>
<g id="p4l1" transform="translate(1861,2873.2)"><rect width="202" height="45.65"/><text><tspan x="5" y="13.5">1.候车时要站在安全白线内，等火车停稳了再</tspan><tspan x="5" dy="12.35">排队上车。因为火车的速度很快，进站时带起</tspan><tspan x="5" dy="12.35">的风很容易把人卷入站台下</tspan></text></g>
<g id="p4l2" transform="translate(1861,2941.35)"><rect width="202" height="33.3"/><text><tspan x="5" y="13.5">2.进站上车，应该通过天桥或地道，不能穿行</tspan><tspan x="5" dy="12.35">铁道，更不能钻爬火车。</tspan></text></g>
<g id="p4l3" transform="translate(1861,2995.35)"><rect width="202" height="33.3"/><text><tspan x="5" y="13.5">3.上火车时不要翻爬车窗进入车厢，以免车窗</tspan><tspan x="5" dy="12.35">滑落砸伤自己。</tspan></text></g>
<g id="p4l4" transform="translate(1861,3051.2)"><rect width="202" height="45.65"/><text><tspan x="5" y="13.5">4.进入车厢后，要赶快找位置坐下，不要在车</tspan><tspan x="5" dy="12.35">厢内穿行打闹，同时要听清楚列车广播报的站</tspan><tspan x="5" dy="12.35">名和时间，避免错站下车。</tspan></text></g>
<g id="p4l5" transform="translate(1861,3118.35)"><rect width="202" height="33.3"/><text><tspan x="5" y="13.5">5.当火车开动时，不要跟送行的人握手或递东</tspan><tspan x="5" dy="12.35">西，注意把自己的行李物品放稳放好。</tspan></text></g>
<g id="p4l6" transform="translate(1861,3173.35)"><rect width="202" height="33.3"/><text><tspan x="5" y="13.5">6.不要到车厢连接处玩耍，那里很容易发生被</tspan><tspan x="5" dy="12.35">连接板夹伤、挤伤的事故。</tspan></text></g>
<g id="p4l7" transform="translate(1861,3228.35)"><rect width="202" height="33.3"/><text><tspan x="5" y="13.5">7.列车行进中，千万不要把手、脚、头伸出窗</tspan><tspan x="5" dy="12.35">外，以免被车窗卡住或被外面的东西撞伤。</tspan></text></g>
<g id="p4l8" transform="translate(1861,3283.35)"><rect width="202" height="33.3"/><text><tspan x="5" y="13.5">8.在列车上打开水，不要灌得太满，以防发生</tspan><tspan x="5" dy="12.35">烫伤。</tspan></text></g>
<g id="p4l9" transform="translate(1861,3338.2)"><rect width="202" height="45.65"/><text><tspan x="5" y="13.5">9.使用后的废弃物，不要随手扔到车窗外，这</tspan><tspan x="5" dy="12.35">样既不讲公共道德，又容易砸伤铁路两旁的行</tspan><tspan x="5" dy="12.35">人。</tspan></text></g>
<g id="p4l10" transform="translate(1861,3405.35)"><rect width="202" height="33.3"/><text><tspan x="5" y="13.5">10.火车中途停站，在下车购买东西或散步时</tspan><tspan x="5" dy="12.35">不要忘了开车时间而发生漏乘。</tspan></text></g>
<g id="p4l11" transform="translate(1861,3460.2)"><rect width="202" height="45.65"/><text><tspan x="5" y="13.5">11.火车到站后，不要急于下车，要仔细清点</tspan><tspan x="5" dy="12.35">自己所带的物品，等火车停稳后再有秩序地下</tspan><tspan x="5" dy="12.35">车，不能从车门、窗户跳车。</tspan></text></g>
<g id="p4l12" transform="translate(1861,3527)"><rect width="202" height="58"/><text><tspan x="5" y="13.5">12.在卧铺睡觉，应将头朝过道，这样既安全</tspan><tspan x="5" dy="12.35">又能呼吸到新鲜空气。不要让头朝窗睡，因为</tspan><tspan x="5" dy="12.35">车轮的震波和噪声有碍于大脑保健。另外，如</tspan><tspan x="5" dy="12.35">果遇到紧急刹车引起剧烈颠簸，头会被碰伤。</tspan></text></g>
<g id="p4l13" transform="translate(1861,3607.35)"><rect width="202" height="33.3"/><text><tspan x="5" y="13.5">13.睡在中、上铺上的乘客，注意将车上的安</tspan><tspan x="5" dy="12.35">全皮带挂好，防止睡觉时掉下来摔伤。</tspan></text></g>
<g id="p4l14" transform="translate(1861,3663)"><rect width="202" height="58"/><text><tspan x="5" y="13.5">14.现在许多火车都改为封闭式旅游列车，这</tspan><tspan x="5" dy="12.35">种火车易燃，而且一旦着火，无法扑救，瞬间</tspan><tspan x="5" dy="12.35">一节车厢就可能化为灰烬。因此，千万不要在</tspan><tspan x="5" dy="12.35">列车上玩火，更不要携带易燃易爆物品上车。</tspan></text></g>
<g id="p4l15" transform="translate(1861,3741.35)"><rect width="202" height="33.3"/><text><tspan x="5" y="13.5">15.不要在铁轨上逗留、游逛、捡拾煤渣、酒</tspan><tspan x="5" dy="12.35">瓶等杂物。</tspan></text></g>
<g id="p4l16" transform="translate(1861,3797.35)"><rect width="202" height="33.3"/><text><tspan x="5" y="13.5">16.不要在铁路路基上行走、乘凉或坐卧铁轨</tspan><tspan x="5" dy="12.35">。</tspan></text></g>
<g id="p4l17" transform="translate(1861,3851.5)"><rect width="128" height="21"/><text x="5" y="13.8">17.不要钻车、扒车、跳车。</text></g>
<g id="p4l18" transform="translate(1861,3894.35)"><rect width="202" height="33.3"/><text><tspan x="5" y="13.5">18.不攀登电气化铁路上的接触网支柱和铁塔</tspan><tspan x="5" dy="12.35">，以防触电。</tspan></text></g>
<g id="p4l19" transform="translate(1861,3949.2)"><rect width="202" height="45.65"/><text><tspan x="5" y="13.5">19.过铁道时，若遇红灯亮时，或看守人员示</tspan><tspan x="5" dy="12.35">意停止行进时，须依次停在安全线或栏杆以外</tspan><tspan x="5" dy="12.35">。</tspan></text></g>
<g id="p4l20" transform="translate(1861,4016.35)"><rect width="202" height="33.3"/><text><tspan x="5" y="13.5">20.通过无人看守的通口时，须止步观望，在</tspan><tspan x="5" dy="12.35">确认没有列车即将通过后，才能通过。</tspan></text></g>
<g id="p4j4" transform="translate(1690,4126.5)"><rect width="149" height="21"/><text x="5" y="13.8">四、结束篇：我们的誓言(看课件)</text></g>
<g id="p4m1" transform="translate(1858,4071.5)"><rect width="92" height="21"/><text x="5" y="13.8">1、齐呼我们的誓言</text></g>
<g id="p4m2" transform="translate(1858,4114.5)"><rect width="150" height="21"/><text x="5" y="13.8">2、齐诵《爱路护路“不字歌”》</text></g>
<g id="p4m3" transform="translate(1858,4156.8)"><rect width="201" height="70.35"/><text><tspan x="5" y="13.5">3、总结：在父母眼里，我们是含苞欲放的花</tspan><tspan x="5" dy="12.35">蕾;在老师眼里，我们是展翅待飞的雏鹰。父</tspan><tspan x="5" dy="12.35">母，老师，在期待着我们，美好的明天在期待</tspan><tspan x="5" dy="12.35">着我们!为了更好地生活和学习，同学们一定</tspan><tspan x="5" dy="12.35">要把交通安全牢记心中!</tspan></text></g>
</g>

<!-- 篇6 -->
<g id="p6" class="m" transform="translate(1420,4632)"><rect width="176" height="28"/><text x="88" y="18.3">小学交通安全班会教案 篇6</text></g>
<g class="n">
<g id="p6o0" transform="translate(1614,4586.1)"><rect width="201" height="119.75"/><text><tspan x="5" y="13.5">小学生的交通安全意识是社会主义精神文明的</tspan><tspan x="5" dy="12.35">有机组成部分，是学校教育的重要内容。提高</tspan><tspan x="5" dy="12.35">少年儿童的交通安全自我保护能力和遵纪守法</tspan><tspan x="5" dy="12.35">意识，减少车祸对少年儿童的危害，是一项利</tspan><tspan x="5" dy="12.35">在当今，功在千秋的“造福工程”是建设海峡</tspan><tspan x="5" dy="12.35">两岸经济区绿色腹地的需要。为进一步加强小</tspan><tspan x="5" dy="12.35">学生的交通安全教育与管理，培养学生良好的</tspan><tspan x="5" dy="12.35">道德行为习惯，增强学生的文明意识和法制观</tspan><tspan x="5" dy="12.35">念，特制订本计划:</tspan></text></g>
<g id="p6o1" transform="translate(1834,4248.5)"><rect width="114" height="21"/><text x="5" y="13.8">一、加强领导、健全机构</text></g>
<g id="p6o2" transform="translate(1834,4303.5)"><rect width="139" height="21"/><text x="5" y="13.8">1、成立学校交通安全领导小组</text></g>
<g id="p6o2a" transform="translate(1992,4291.2)"><rect width="201" height="45.65"/><text><tspan x="5" y="13.5">成立由中心校校长任组长，分管副校长任副组</tspan><tspan x="5" dy="12.35">长，少先队总辅导员、各处室负责人、各学点</tspan><tspan x="5" dy="12.35">校长为成员的交通安全领导小组。</tspan></text></g>
<g id="p6o3" transform="translate(1834,4358.35)"><rect width="201" height="33.3"/><text><tspan x="5" y="13.5">2、成立“少年交通督导队”各班有一名交通</tspan><tspan x="5" dy="12.35">宣传员。</tspan></text></g>
<g id="p6o4" transform="translate(1834,4567.5)"><rect width="114" height="21"/><text x="5" y="13.8">二、强化措施，落实责任</text></g>
<g id="p6o4a" transform="translate(1967,4413.2)"><rect width="201" height="45.65"/><text><tspan x="5" y="13.5">1、签订交通安全责任书。由中心校交通安全</tspan><tspan x="5" dy="12.35">领导小组与各校点、各班级签订交通安全责任</tspan><tspan x="5" dy="12.35">书。</tspan></text></g>
<g id="p6o4b" transform="translate(1967,4481.2)"><rect width="201" height="45.65"/><text><tspan x="5" y="13.5">2、各班级安全责任人与学生家长签订“学生</tspan><tspan x="5" dy="12.35">交通安全责任书”，规范学生日常上学、放学</tspan><tspan x="5" dy="12.35">、骑车、乘车、停放车等有关交通行为习惯。</tspan></text></g>
<g id="p6o4c" transform="translate(1967,4548)"><rect width="201" height="58"/><text><tspan x="5" y="13.5">3、建立交通安全联系卡制度，学校、家庭社</tspan><tspan x="5" dy="12.35">会共同对学生日常交通行为的监督记录，形成</tspan><tspan x="5" dy="12.35">社会、家庭、学校对学生交通行为齐抓共管的</tspan><tspan x="5" dy="12.35">新局面。</tspan></text></g>
<g id="p6o4d" transform="translate(1967,4710.5)"><rect width="129" height="21"/><text x="5" y="13.8">4、建立交通督查奖惩制度。</text></g>
<g id="p6o5" transform="translate(1834,5022.5)"><rect width="153" height="21"/><text x="5" y="13.8">三、全面宣传，增强交通安全意识</text></g>
<g id="p6o5a" transform="translate(2005,4842.35)"><rect width="202" height="33.3"/><text><tspan x="5" y="13.5">1、每学年至少二次请交通执法人员到校进行</tspan><tspan x="5" dy="12.35">交通法律法规宣传教育。</tspan></text></g>
<g id="p6o5b" transform="translate(2005,4897.65)"><rect width="202" height="82.7"/><text><tspan x="5" y="13.5">2、每月至少安排一节课时讲授交通安全常识</tspan><tspan x="5" dy="12.35">，要求100%的学生达到交通安全“四会”。</tspan><tspan x="5" dy="12.35">（即会安全走路、安全骑车、会安全乘车、会</tspan><tspan x="5" dy="12.35">按规定停车）。遇到交通事故懂得拨打“122</tspan><tspan x="5" dy="12.35">”报警电话，做到有计划、有教案、有材料、</tspan><tspan x="5" dy="12.35">有测试。</tspan></text></g>
<g id="p6o5c" transform="translate(2005,5002.35)"><rect width="202" height="33.3"/><text><tspan x="5" y="13.5">3、各校每月至少出一期交通安全专刊，各班</tspan><tspan x="5" dy="12.35">每学期至少出二期交通安全班刊。</tspan></text></g>
<g id="p6o5d" transform="translate(2005,5057.2)"><rect width="202" height="45.65"/><text><tspan x="5" y="13.5">4、结合国旗下的讲话，坚持每日的“一日一</tspan><tspan x="5" dy="12.35">法规”教育，本学年则重交通法律法规的宣传</tspan><tspan x="5" dy="12.35">教育。</tspan></text></g>
<g id="p6o5e" transform="translate(2005,5123.35)"><rect width="202" height="33.3"/><text><tspan x="5" y="13.5">5、坚持培养“路队”行为习惯，按街、巷统</tspan><tspan x="5" dy="12.35">一列队行走，并有队旗或班牌领队。</tspan></text></g>
<g id="p6o5f" transform="translate(2005,5178)"><rect width="202" height="58"/><text><tspan x="5" y="13.5">6、结合家长学校，强化学生法定监督人的责</tspan><tspan x="5" dy="12.35">任意识，加强对自己子女进行社会公德和有关</tspan><tspan x="5" dy="12.35">法律法规教育，避免违法违纪和意外事故的发</tspan><tspan x="5" dy="12.35">生。</tspan></text></g>
</g>

<!-- 篇8 -->
<g id="p8" class="m" transform="translate(1420,5732)"><rect width="176" height="28"/><text x="88" y="18.3">小学交通安全班会教案 篇8</text></g>
<g class="n">
<g id="p8p1" transform="translate(1614,5258.1)"><rect width="201" height="119.75"/><text><tspan x="5" y="13.5">学生交通安全教育，是学校有目的、有计划、</tspan><tspan x="5" dy="12.35">有组织地运用多种方式传授安全知识，培养学</tspan><tspan x="5" dy="12.35">生树立交通安全意识，养成良好交通安全习惯</tspan><tspan x="5" dy="12.35">，规范交通安全行为的过程。学生交通安全教</tspan><tspan x="5" dy="12.35">育，是学生安全教育的一个重要组成部分。保</tspan><tspan x="5" dy="12.35">障学生的安全，是学校义不容辞的责任和义务</tspan><tspan x="5" dy="12.35">。为了进一步加强我校的安全工作，切实提高</tspan><tspan x="5" dy="12.35">我校全校师生的交通安全意识，根据我校实际</tspan><tspan x="5" dy="12.35">，制定如下计划与安排。</tspan></text></g>
<g id="p8p2" transform="translate(1614,5399.2)"><rect width="201" height="45.65"/><text><tspan x="5" y="13.5">一、本期建立一支精干、高效、务实的交通安</tspan><tspan x="5" dy="12.35">全教育队伍，明确分工，责任到人，健全组织</tspan><tspan x="5" dy="12.35">机构。</tspan></text></g>
<g id="p8p3" transform="translate(1614,5466.35)"><rect width="201" height="33.3"/><text><tspan x="5" y="13.5">二、主题：活动以"交通安全，从我做起"为主</tspan><tspan x="5" dy="12.35">题。</tspan></text></g>
<g id="p8p4" transform="translate(1614,5729.35)"><rect width="201" height="33.3"/><text><tspan x="5" y="13.5">三、根据具体情况开展各种形式的交通安全教</tspan><tspan x="5" dy="12.35">育活动。</tspan></text></g>
<g id="p8p4a" transform="translate(1834,5522)"><rect width="201" height="58"/><text><tspan x="5" y="13.5">1、充分利用晨会、主题班会、知识讲座、黑</tspan><tspan x="5" dy="12.35">板报等渠道切实加强对学生的安全知识(重点</tspan><tspan x="5" dy="12.35">是交通法规和本校学生安全须知)的教育，提</tspan><tspan x="5" dy="12.35">高学生的交通安全防范意识。</tspan></text></g>
<g id="p8p4b" transform="translate(1834,5601.5)"><rect width="158" height="21"/><text x="5" y="13.8">2、举办交通安全知识黑板报比赛。</text></g>
<g id="p8p4c" transform="translate(1834,5644.5)"><rect width="158" height="21"/><text x="5" y="13.8">3、举办交通安全知识手抄报比赛。</text></g>
<g id="p8p4d" transform="translate(1834,5687.35)"><rect width="201" height="33.3"/><text><tspan x="5" y="13.5">4、邀请有关部门的专业人员进校，举办交通</tspan><tspan x="5" dy="12.35">安全教育讲座等活动。</tspan></text></g>
<g id="p8p4e" transform="translate(1834,5742.35)"><rect width="201" height="33.3"/><text><tspan x="5" y="13.5">5、组织师生外出，运用参观、实践等活动开</tspan><tspan x="5" dy="12.35">展交通安全教育。</tspan></text></g>
<g id="p8p4f" transform="translate(1834,5797.2)"><rect width="201" height="45.65"/><text><tspan x="5" y="13.5">6、通过召开家长会，密切家校关系，动员学</tspan><tspan x="5" dy="12.35">生家长配合学校共同对学生进行交通安全教育</tspan><tspan x="5" dy="12.35">。</tspan></text></g>
<g id="p8p4g" transform="translate(1834,5864.2)"><rect width="201" height="45.65"/><text><tspan x="5" y="13.5">7、通过与交通管理部门和街道、社区等社会</tspan><tspan x="5" dy="12.35">有关方面合作，组织开展学生交通安全教育工</tspan><tspan x="5" dy="12.35">作。</tspan></text></g>
<g id="p8p4h" transform="translate(1834,5931.5)"><rect width="177" height="21"/><text x="5" y="13.8">8、利用班会开展"交通安全"主题活动。</text></g>
<g id="p8p5" transform="translate(1614,6017.5)"><rect width="96" height="21"/><text x="5" y="13.8">四、加强交通管理。</text></g>
<g id="p8p5a" transform="translate(1728,5974.2)"><rect width="201" height="45.65"/><text><tspan x="5" y="13.5">1、由总值日组织值勤教师、安保人员、学生</tspan><tspan x="5" dy="12.35">督导队加强对师生进出校门时的交通安全监督</tspan><tspan x="5" dy="12.35">。</tspan></text></g>
<g id="p8p5b" transform="translate(1728,6041.35)"><rect width="201" height="33.3"/><text><tspan x="5" y="13.5">2、保卫处加强对学生自行车的安全设备和自</tspan><tspan x="5" dy="12.35">行车牌证检查。</tspan></text></g>
<g id="p8p6" transform="translate(1614,6161.5)"><rect width="172" height="21"/><text x="5" y="13.8">五、学生校外交通突发事故应急预案。</text></g>
<g id="p8p6a" transform="translate(1805,6096.35)"><rect width="201" height="33.3"/><text><tspan x="5" y="13.5">1、事情处置人员：知情的学校教职工及学生</tspan><tspan x="5" dy="12.35">、班主任、值日教师、保卫处、校长。</tspan></text></g>
<g id="p8p6b" transform="translate(1805,6221.5)"><rect width="73" height="21"/><text x="5" y="13.8">2、处置措施:</text></g>
<g id="p8p6b1" transform="translate(1896,6151.5)"><rect width="194" height="21"/><text x="5" y="13.8">(1)发现情况立即通过各种渠道报告校长室。</text></g>
<g id="p8p6b2" transform="translate(1896,6194.5)"><rect width="174" height="21"/><text x="5" y="13.8">(2)尽快组织人员将伤者送往医院抢救。</text></g>
<g id="p8p6b3" transform="translate(1896,6236.35)"><rect width="201" height="33.3"/><text><tspan x="5" y="13.5">(3)救援人员不足或难于处理时立即拨打"110"</tspan><tspan x="5" dy="12.35">和"120"。</tspan></text></g>
<g id="p8p6b4" transform="translate(1896,6291.5)"><rect width="88" height="21"/><text x="5" y="13.8">(4)及早通知家长。</text></g>
</g>
</g>
</svg>
